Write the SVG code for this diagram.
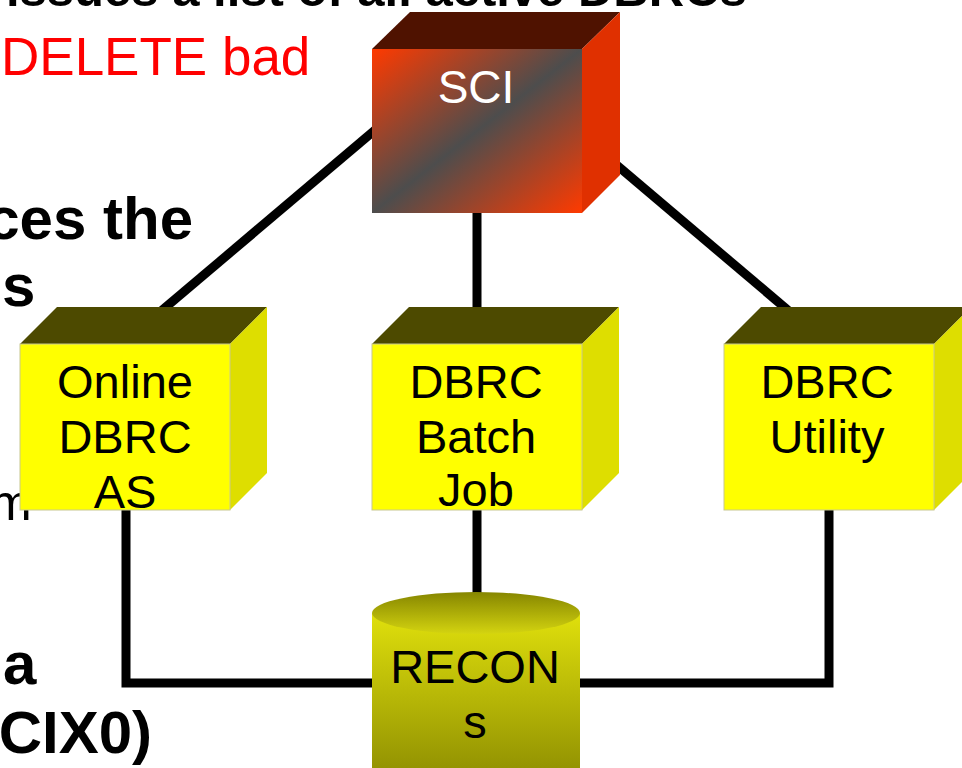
<svg xmlns="http://www.w3.org/2000/svg" width="962" height="768" viewBox="0 0 962 768">
  <defs>
    <linearGradient id="sciFront" x1="0" y1="0" x2="1" y2="1">
      <stop offset="0" stop-color="#ff3a00"/>
      <stop offset="0.5" stop-color="#4d4d4d"/>
      <stop offset="1" stop-color="#ff3a00"/>
    </linearGradient>
    <linearGradient id="cylBody" x1="0" y1="0" x2="0" y2="1">
      <stop offset="0" stop-color="#e0e00c"/>
      <stop offset="1" stop-color="#848400"/>
    </linearGradient>
    <linearGradient id="cylTop" x1="0" y1="0" x2="0" y2="1">
      <stop offset="0" stop-color="#868600"/>
      <stop offset="1" stop-color="#d4d410"/>
    </linearGradient>
  </defs>
  <style>
    .bold { font-family: "Liberation Sans", Arial, sans-serif; font-weight: bold; fill: #000; }
    .reg { font-family: "Liberation Sans", Arial, sans-serif; fill: #000; }
    .label { font-family: "Liberation Sans", Arial, sans-serif; font-size: 47px; fill: #000; text-anchor: middle; }
    .top-y { fill: #4d4a00; }
    .side-y { fill: #dede00; }
    .front-y { fill: #ffff00; stroke: #c8c890; stroke-width: 1; }
    .wire { stroke: #000; stroke-width: 9; fill: none; stroke-linejoin: miter; }
  </style>

  <!-- background slide text -->
  <g id="slide-text">
    <text class="bold" x="6" y="6" font-size="49">issues a list of all active DBRCs</text>
    <text class="reg" x="1" y="75" font-size="53" style="fill:#ff0000">DELETE bad</text>
    <text class="bold" x="193" y="239" font-size="60" text-anchor="end">ces the</text>
    <text class="bold" x="2" y="306" font-size="60">s</text>
    <text class="reg" x="-10" y="520" font-size="50">m</text>
    <text class="bold" x="3" y="684" font-size="60">a</text>
    <text class="bold" x="152" y="753" font-size="60" text-anchor="end">CIX0)</text>
  </g>

  <!-- connectors -->
  <g id="connectors">
    <line class="wire" x1="420" y1="92" x2="160" y2="312"/>
    <line class="wire" x1="560" y1="117" x2="790" y2="312"/>
    <line class="wire" x1="477" y1="200" x2="477" y2="320"/>
    <line class="wire" x1="477" y1="500" x2="477" y2="605"/>
    <polyline class="wire" points="126,500 126,683 380,683"/>
    <polyline class="wire" points="829,500 829,683 572,683"/>
  </g>

  <!-- SCI -->
  <g id="sci">
    <polygon points="372,49 410,12 620,12 582,49" fill="#4f1200"/>
    <polygon points="582,49 620,12 620,175 582,213" fill="#e03000"/>
    <rect x="372" y="49" width="210" height="164" fill="url(#sciFront)"/>
    <text x="476" y="103" font-family="Liberation Sans, Arial, sans-serif" font-size="46" fill="#ffffff" text-anchor="middle">SCI</text>
  </g>

  <!-- Online DBRC AS -->
  <g id="online-dbrc">
    <polygon class="top-y" points="20,344 57,307 267,307 230,344"/>
    <polygon class="side-y" points="230,344 267,307 267,473 230,510"/>
    <rect class="front-y" x="20" y="344" width="210" height="166"/>
    <text class="label" x="125" y="398">Online</text>
    <text class="label" x="125" y="453">DBRC</text>
    <text class="label" x="125" y="508">AS</text>
  </g>

  <!-- DBRC Batch Job -->
  <g id="dbrc-batch">
    <polygon class="top-y" points="372,344 409,307 619,307 582,344"/>
    <polygon class="side-y" points="582,344 619,307 619,473 582,510"/>
    <rect class="front-y" x="372" y="344" width="210" height="166"/>
    <text class="label" x="476" y="398">DBRC</text>
    <text class="label" x="476" y="453">Batch</text>
    <text class="label" x="476" y="506">Job</text>
  </g>

  <!-- DBRC Utility -->
  <g id="dbrc-utility">
    <polygon class="top-y" points="724,344 761,307 971,307 934,344"/>
    <polygon class="side-y" points="934,344 971,307 971,473 934,510"/>
    <rect class="front-y" x="724" y="344" width="210" height="166"/>
    <text class="label" x="827" y="398">DBRC</text>
    <text class="label" x="827" y="453">Utility</text>
  </g>

  <!-- RECONs -->
  <g id="recons">
    <path d="M372,613 L372,780 A104,21 0 0 0 580,780 L580,613 Z" fill="url(#cylBody)"/>
    <ellipse cx="476" cy="613" rx="104" ry="21" fill="url(#cylTop)"/>
    <text class="label" x="475" y="683">RECON</text>
    <text class="label" x="475" y="738">s</text>
  </g>
</svg>
